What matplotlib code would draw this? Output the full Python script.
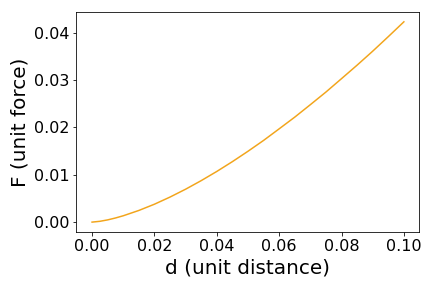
import matplotlib
matplotlib.use("Agg")
import matplotlib.pyplot as plt

# values
d = [0.0, 0.0025, 0.005, 0.0075, 0.01, 0.015, 0.02, 0.025, 0.03, 0.035, 0.04, 0.045,
     0.05, 0.055, 0.06, 0.065, 0.07, 0.075, 0.08, 0.085, 0.09, 0.095, 0.10]
F = [0.0, 0.00017, 0.00047, 0.00087, 0.00134, 0.00246, 0.00378, 0.00529, 0.00695,
     0.00876, 0.0107, 0.01277, 0.01496, 0.01725, 0.0197, 0.02217, 0.0248, 0.02747,
     0.0303, 0.03315, 0.0361, 0.03917, 0.0423]

fig = plt.figure(figsize=(6, 4), dpi=72)
ax = fig.add_axes([0.177, 0.194, 0.794, 0.765])
ax.plot(d, F, color="#f2a51c", linewidth=1.5)

ax.set_xlabel("d (unit distance)", fontsize=20)
ax.set_ylabel("F (unit force)", fontsize=20)
ax.tick_params(labelsize=16)

fig.savefig("out.png", dpi=72)
